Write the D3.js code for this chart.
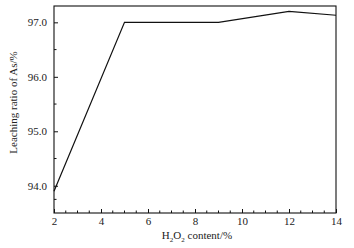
<!DOCTYPE html>
<html>
<head>
<meta charset="utf-8">
<script src="https://cdn.jsdelivr.net/npm/d3@7"></script>
<style>
  body { margin: 0; background: #fff; }
  text { font-family: "Liberation Serif", "Times New Roman", serif; fill: #222; }
</style>
</head>
<body>
<svg id="chart"></svg>
<script>
// data
const h2o2 = [2, 5, 9, 12, 14];
const leaching = [93.9, 97.0, 97.0, 97.2, 97.13];
const xTicks = [2, 4, 6, 8, 10, 12, 14];
const xMinor = d3.range(2.5, 14, 0.5);
const yTicks = [94.0, 95.0, 96.0, 97.0];
const yMinor = [93.75, 94.5, 95.5, 96.5];

const width = 354, height = 248;
const margin = { top: 6, right: 18, bottom: 35, left: 54 };
const innerW = width - margin.left - margin.right;
const innerH = height - margin.top - margin.bottom;

const svg = d3.select('#chart')
    .attr('width', width)
    .attr('height', height);

const chart = svg.append('g')
    .attr('transform', `translate(${margin.left},${margin.top})`);

const x = d3.scaleLinear().domain([2, 14]).range([0, innerW]);
const y = d3.scaleLinear().domain([93.5, 97.3]).range([innerH, 0]);

// frame
chart.append('rect')
    .attr('width', innerW)
    .attr('height', innerH)
    .attr('fill', 'none')
    .attr('stroke', '#111')
    .attr('stroke-width', 1.1);

// x axis, ticks pointing inward
const xAxis = d3.axisBottom(x).tickValues(xTicks).tickSize(-4).tickPadding(4)
    .tickFormat(d3.format('d'));
const xAxisG = chart.append('g')
    .attr('transform', `translate(0,${innerH})`)
    .call(xAxis);
chart.append('g')
    .attr('transform', `translate(0,${innerH})`)
    .selectAll('line')
    .data(xMinor.filter(d => !xTicks.includes(d)))
    .join('line')
      .attr('x1', d => x(d)).attr('x2', d => x(d))
      .attr('y1', 0).attr('y2', -2.5)
      .attr('stroke', '#111');

// y axis
const yAxis = d3.axisLeft(y).tickValues(yTicks).tickSize(-4).tickPadding(7)
    .tickFormat(d3.format('.1f'));
const yAxisG = chart.append('g').call(yAxis);
chart.append('g')
    .selectAll('line')
    .data(yMinor)
    .join('line')
      .attr('x1', 0).attr('x2', 2.5)
      .attr('y1', d => y(d)).attr('y2', d => y(d))
      .attr('stroke', '#111');

[xAxisG, yAxisG].forEach(g => {
  g.select('.domain').remove();
  g.selectAll('.tick line').attr('stroke', '#111');
  g.selectAll('.tick text')
    .style('font-family', '"Liberation Serif", serif')
    .style('font-size', '11px')
    .attr('fill', '#222');
});

// the line
const line = d3.line()
    .x((d, i) => x(h2o2[i]))
    .y(d => y(d));

chart.append('path')
    .datum(leaching)
    .attr('fill', 'none')
    .attr('stroke', '#111')
    .attr('stroke-width', 1.2)
    .attr('d', line);

// axis labels
const xLabel = svg.append('text')
    .attr('x', margin.left + innerW / 2 + 2)
    .attr('y', 239)
    .attr('text-anchor', 'middle')
    .style('font-size', '11px');
xLabel.append('tspan').text('H');
xLabel.append('tspan').attr('dy', 3).style('font-size', '7px').text('2');
xLabel.append('tspan').attr('dy', -3).text('O');
xLabel.append('tspan').attr('dy', 3).style('font-size', '7px').text('2');
xLabel.append('tspan').attr('dy', -3).text(' content/%');

svg.append('text')
    .attr('transform', `translate(17,${margin.top + innerH / 2 - 7}) rotate(-90)`)
    .attr('text-anchor', 'middle')
    .style('font-size', '11px')
    .text('Leaching ratio of As/%');
</script>
</body>
</html>
